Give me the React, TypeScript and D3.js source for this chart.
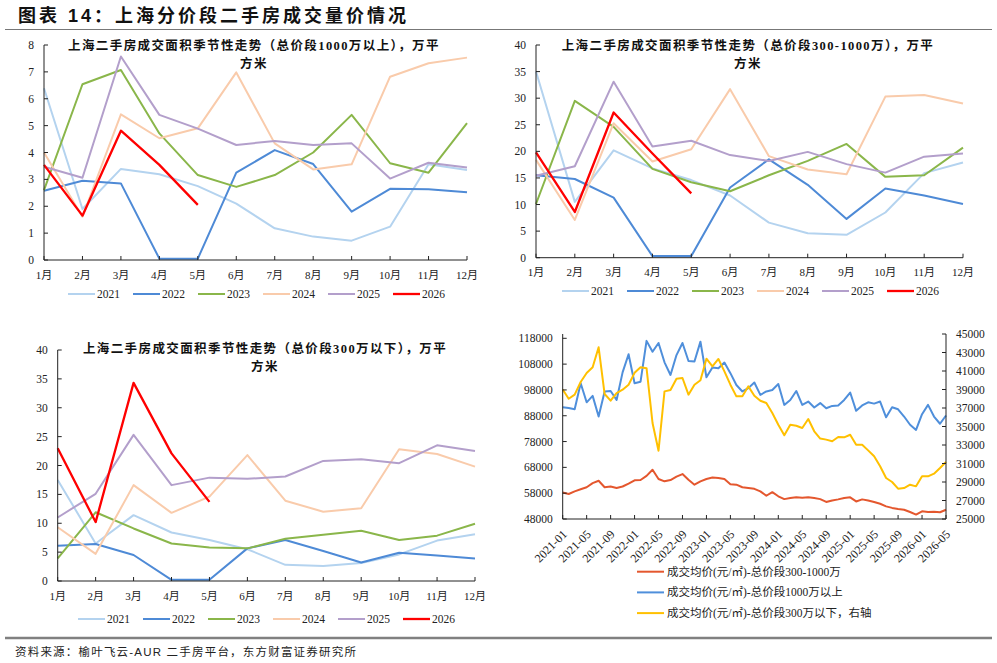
import React from "react";
import * as d3 from "d3";

const months = ["1月", "2月", "3月", "4月", "5月", "6月", "7月", "8月", "9月", "10月", "11月", "12月"];
const years = ["2021", "2022", "2023", "2024", "2025", "2026"];
const yearColors = ["#b4d3ef", "#4e8ad6", "#8ab64a", "#f9cbab", "#b39fcb", "#ff0000"];

// 成交面积，总价段1000万以上（万平方米）
const over1000_2021 = [6.39, 1.9, 3.39, 3.19, 2.75, 2.1, 1.18, 0.87, 0.72, 1.24, 3.56, 3.35];
const over1000_2022 = [2.58, 2.95, 2.85, 0.05, 0.05, 3.25, 4.09, 3.57, 1.8, 2.65, 2.63, 2.52];
const over1000_2023 = [2.6, 6.54, 7.07, 4.71, 3.16, 2.72, 3.16, 4.0, 5.4, 3.6, 3.25, 5.09];
const over1000_2024 = [4.0, 1.61, 5.42, 4.53, 4.9, 6.98, 4.34, 3.37, 3.56, 6.82, 7.32, 7.53];
const over1000_2025 = [3.47, 3.06, 7.57, 5.4, 4.89, 4.28, 4.43, 4.28, 4.34, 3.03, 3.62, 3.44];
const over1000_2026 = [3.54, 1.65, 4.81, 3.54, 2.05];

// 成交面积，总价段300-1000万
const mid_2021 = [35.0, 10.5, 20.2, 16.8, 14.6, 11.7, 6.6, 4.6, 4.3, 8.5, 15.9, 17.9];
const mid_2022 = [15.5, 14.8, 11.3, 0.3, 0.3, 13.2, 18.5, 13.7, 7.3, 13.0, 11.7, 10.1];
const mid_2023 = [10.1, 29.5, 24.6, 16.7, 14.2, 12.5, 15.5, 18.2, 21.4, 15.2, 15.5, 20.7];
const mid_2024 = [18.4, 7.1, 25.3, 18.1, 20.4, 31.7, 19.1, 16.6, 15.7, 30.3, 30.6, 29.0];
const mid_2025 = [15.4, 17.2, 33.1, 20.9, 22.0, 19.3, 18.2, 19.9, 17.6, 16.0, 19.0, 19.6];
const mid_2026 = [19.8, 8.6, 27.3, 19.6, 12.1];

// 成交面积，总价段300万以下
const under300_2021 = [17.5, 6.5, 11.4, 8.4, 7.1, 5.5, 2.8, 2.6, 3.1, 4.6, 7.0, 8.1];
const under300_2022 = [6.1, 6.4, 4.5, 0.2, 0.2, 5.65, 7.1, 5.2, 3.2, 4.9, 4.4, 3.9];
const under300_2023 = [3.9, 11.9, 9.1, 6.5, 5.8, 5.65, 7.3, 8.0, 8.7, 7.1, 7.85, 9.9];
const under300_2024 = [9.3, 4.7, 16.6, 11.8, 14.6, 21.8, 13.9, 12.0, 12.6, 22.8, 22.0, 19.8];
const under300_2025 = [11.0, 15.1, 25.3, 16.6, 17.9, 17.7, 18.1, 20.8, 21.1, 20.4, 23.5, 22.5];
const under300_2026 = [23.0, 10.2, 34.3, 22.1, 13.7];

// 成交均价（元/㎡），2021-01 至 2026-05
const priceTickLabels = [
  "2021-01", "2021-05", "2021-09", "2022-01", "2022-05", "2022-09", "2023-01", "2023-05", "2023-09",
  "2024-01", "2024-05", "2024-09", "2025-01", "2025-05", "2025-09", "2026-01", "2026-05",
];
const price300to1000 = [
  58300, 57700, 58700, 59500, 60300, 61900, 62800, 60300, 60600, 60000, 60600, 61700, 63000, 63100, 64700, 67100,
  63500, 62600, 63100, 64400, 65400, 63200, 61300, 62600, 63500, 64100, 63900, 63500, 61500, 61300, 60300, 60000,
  59700, 58700, 57000, 58400, 56800, 55700, 56100, 56400, 56200, 56400, 56100, 55700, 54600, 55200, 55600, 56100,
  56400, 54800, 55600, 55200, 54600, 53900, 52900, 52300, 51900, 51600, 50700, 49700, 51000, 50700, 50800, 50600,
  51600,
];
const priceOver1000 = [
  91300, 91000, 90500, 100600, 93200, 95700, 87700, 97400, 97600, 94100, 104800, 111800, 100600, 101200, 117000, 112800,
  116200, 108700, 103800, 111500, 116200, 109200, 109000, 116700, 102900, 106700, 106400, 108600, 104500, 99900, 97400, 98700,
  100900, 96100, 97400, 98000, 100300, 92200, 94100, 97600, 92200, 93500, 91200, 92900, 90900, 91800, 92000, 94100,
  97000, 89900, 92000, 93200, 92700, 93500, 87400, 91300, 90500, 87700, 84500, 82500, 88600, 92200, 87700, 84900,
  88100,
];
const priceUnder300 = [
  39000, 38000, 38440, 39810, 40780, 41400, 43560, 38510, 37790, 38620, 38980, 39520, 40800, 41400, 41300, 35380,
  32380, 38800, 38950, 40170, 40240, 38440, 39520, 40000, 42330, 41500, 42300, 40960, 39520, 38260, 38260, 39340,
  38330, 37790, 37540, 36460, 35190, 34050, 35190, 35080, 34840, 35810, 34480, 33700, 33580, 33400, 33860, 33830,
  34110, 33030, 33030, 32420, 31780, 30700, 29430, 29000, 28280, 28350, 28710, 28530, 29610, 29610, 29900, 30510,
  31160,
];

const priceMonths: string[] = [];
for (let y = 2021; y <= 2026; y++) {
  for (let m = 1; m <= 12; m++) {
    if (y === 2026 && m > 5) break;
    priceMonths.push(`${y}-${String(m).padStart(2, "0")}`);
  }
}

const serif = "'Liberation Serif', 'Noto Sans CJK SC', serif";
const sans = "'Liberation Sans', 'Noto Sans CJK SC', sans-serif";
const axisColor = "#222";

interface PanelProps {
  series: number[][];
  left: number;
  right: number;
  top: number;
  bottom: number;
  max: number;
  step: number;
  title: string;
  titleX: number;
  titleY: number;
  legendX: number;
  legendY: number;
  labelY: number;
}

function SeasonPanel(p: PanelProps) {
  const x = d3.scalePoint<string>().domain(months).range([p.left, p.right]);
  const y = d3.scaleLinear().domain([0, p.max]).range([p.bottom, p.top]);
  const line = d3.line<number>().x((_, i) => x(months[i])!).y((d) => y(d));
  const ticks = d3.range(0, p.max + p.step / 2, p.step);

  return (
    <g>
      <text x={p.titleX} y={p.titleY} textAnchor="middle" fontSize={12.5} fontWeight="bold" letterSpacing={1.4} fill="#111">
        {p.title}
      </text>
      <text x={p.titleX} y={p.titleY + 18} textAnchor="middle" fontSize={12.5} fontWeight="bold" letterSpacing={1.4} fill="#111">
        方米
      </text>

      {p.series.map((s, k) => (
        <path key={k} d={line(s) || ""} fill="none" stroke={yearColors[k]} strokeWidth={k === 5 ? 2.3 : 2} strokeLinejoin="round" />
      ))}

      <line x1={p.left} x2={p.left} y1={p.top} y2={p.bottom} stroke={axisColor} />
      <line x1={p.left} x2={p.right} y1={p.bottom} y2={p.bottom} stroke={axisColor} />
      {ticks.map((t) => (
        <g key={t}>
          <line x1={p.left} x2={p.left + 4} y1={y(t)} y2={y(t)} stroke={axisColor} />
          <text x={p.left - 10} y={y(t)} dy="0.35em" textAnchor="end" fontSize={11.5} fill={axisColor}>
            {t}
          </text>
        </g>
      ))}
      {months.map((m) => (
        <g key={m}>
          <line x1={x(m)} x2={x(m)} y1={p.bottom} y2={p.bottom - 4} stroke={axisColor} />
          <text x={x(m)} y={p.labelY} textAnchor="middle" fontSize={11} fill={axisColor}>
            {m}
          </text>
        </g>
      ))}

      {years.map((yr, k) => (
        <g key={yr} transform={`translate(${p.legendX + k * 65},${p.legendY})`}>
          <line x1={0} x2={27} y1={0} y2={0} stroke={yearColors[k]} strokeWidth={k === 5 ? 2.3 : 2} />
          <text x={29} y={0} dy="0.35em" fontSize={11.5} fill={axisColor}>
            {yr}
          </text>
        </g>
      ))}
    </g>
  );
}

function PricePanel() {
  const left = 562.7;
  const right = 946;
  const bottom = 519;
  const top = 334;
  const x = d3.scalePoint<string>().domain(priceMonths).range([left, right]);
  const yL = d3.scaleLinear().domain([48000, 118000]).range([bottom, 338.3]);
  const yR = d3.scaleLinear().domain([25000, 45000]).range([bottom, top]);
  const lineL = d3.line<number>().x((_, i) => x(priceMonths[i])!).y((d) => yL(d));
  const lineR = d3.line<number>().x((_, i) => x(priceMonths[i])!).y((d) => yR(d));
  const leftTicks = d3.range(48000, 118001, 10000);
  const rightTicks = d3.range(25000, 45001, 2000);

  const legend = [
    { label: "成交均价(元/㎡)-总价段300-1000万", color: "#e4572e" },
    { label: "成交均价(元/㎡)-总价段1000万以上", color: "#4f8fdb" },
    { label: "成交均价(元/㎡)-总价段300万以下，右轴", color: "#ffc000" },
  ];

  return (
    <g>
      <path d={lineL(price300to1000) || ""} fill="none" stroke="#e4572e" strokeWidth={2} strokeLinejoin="round" />
      <path d={lineL(priceOver1000) || ""} fill="none" stroke="#4f8fdb" strokeWidth={2} strokeLinejoin="round" />
      <path d={lineR(priceUnder300) || ""} fill="none" stroke="#ffc000" strokeWidth={2} strokeLinejoin="round" />

      <line x1={left} x2={left} y1={top} y2={bottom} stroke={axisColor} />
      <line x1={right} x2={right} y1={top} y2={bottom} stroke={axisColor} />
      <line x1={left} x2={right} y1={bottom} y2={bottom} stroke={axisColor} />
      {leftTicks.map((t) => (
        <g key={t}>
          <line x1={left} x2={left + 4} y1={yL(t)} y2={yL(t)} stroke={axisColor} />
          <text x={left - 10} y={yL(t)} dy="0.35em" textAnchor="end" fontSize={11.5} fill={axisColor}>
            {t}
          </text>
        </g>
      ))}
      {rightTicks.map((t) => (
        <g key={t}>
          <line x1={right} x2={right - 4} y1={yR(t)} y2={yR(t)} stroke={axisColor} />
          <text x={right + 10} y={yR(t)} dy="0.35em" textAnchor="start" fontSize={11.5} fill={axisColor}>
            {t}
          </text>
        </g>
      ))}
      {priceTickLabels.map((m) => (
        <g key={m}>
          <line x1={x(m)} x2={x(m)} y1={bottom} y2={bottom - 4} stroke={axisColor} />
          <text transform={`translate(${x(m)! + 2},${bottom + 13}) rotate(-45)`} dy="0.35em" textAnchor="end" fontSize={12} fill={axisColor}>
            {m}
          </text>
        </g>
      ))}

      {legend.map((l, k) => (
        <g key={l.label} transform={`translate(637,${571.7 + k * 20.7})`}>
          <line x1={0} x2={27} y1={0} y2={0} stroke={l.color} strokeWidth={2} />
          <text x={30} y={0} dy="0.35em" fontSize={11.5} fill={axisColor}>
            {l.label}
          </text>
        </g>
      ))}
    </g>
  );
}

export default function App() {
  return (
    <svg
      width={997}
      height={663}
      style={{ position: "absolute", left: 0, top: 0, background: "#fff", fontFamily: serif }}
    >
      <rect width={997} height={663} fill="#fff" />
      <text x={18} y={22} fontFamily={sans} fontSize={18} fontWeight="bold" letterSpacing={3} fill="#111">
        图表 14：上海分价段二手房成交量价情况
      </text>
      <line x1={5} x2={992} y1={29.5} y2={29.5} stroke="#777" strokeWidth={1} />

      <SeasonPanel
        series={[over1000_2021, over1000_2022, over1000_2023, over1000_2024, over1000_2025, over1000_2026]}
        left={44}
        right={467}
        top={45}
        bottom={260}
        max={8}
        step={1}
        title="上海二手房成交面积季节性走势（总价段1000万以上），万平"
        titleX={254}
        titleY={50}
        legendX={68}
        legendY={294}
        labelY={279}
      />
      <SeasonPanel
        series={[mid_2021, mid_2022, mid_2023, mid_2024, mid_2025, mid_2026]}
        left={536}
        right={963}
        top={45}
        bottom={257.7}
        max={40}
        step={5}
        title="上海二手房成交面积季节性走势（总价段300-1000万），万平"
        titleX={748}
        titleY={50}
        legendX={562}
        legendY={291}
        labelY={276}
      />
      <SeasonPanel
        series={[under300_2021, under300_2022, under300_2023, under300_2024, under300_2025, under300_2026]}
        left={57.7}
        right={475}
        top={350}
        bottom={581}
        max={40}
        step={5}
        title="上海二手房成交面积季节性走势（总价段300万以下），万平"
        titleX={265}
        titleY={353}
        legendX={78}
        legendY={619}
        labelY={600}
      />
      <PricePanel />

      <line x1={5} x2={992} y1={638} y2={638} stroke="#808080" strokeWidth={2.5} />
      <text x={15} y={656} fontFamily={sans} fontSize={11.5} letterSpacing={1.2} fill="#222">
        资料来源：榆叶飞云-AUR 二手房平台，东方财富证券研究所
      </text>
    </svg>
  );
}
